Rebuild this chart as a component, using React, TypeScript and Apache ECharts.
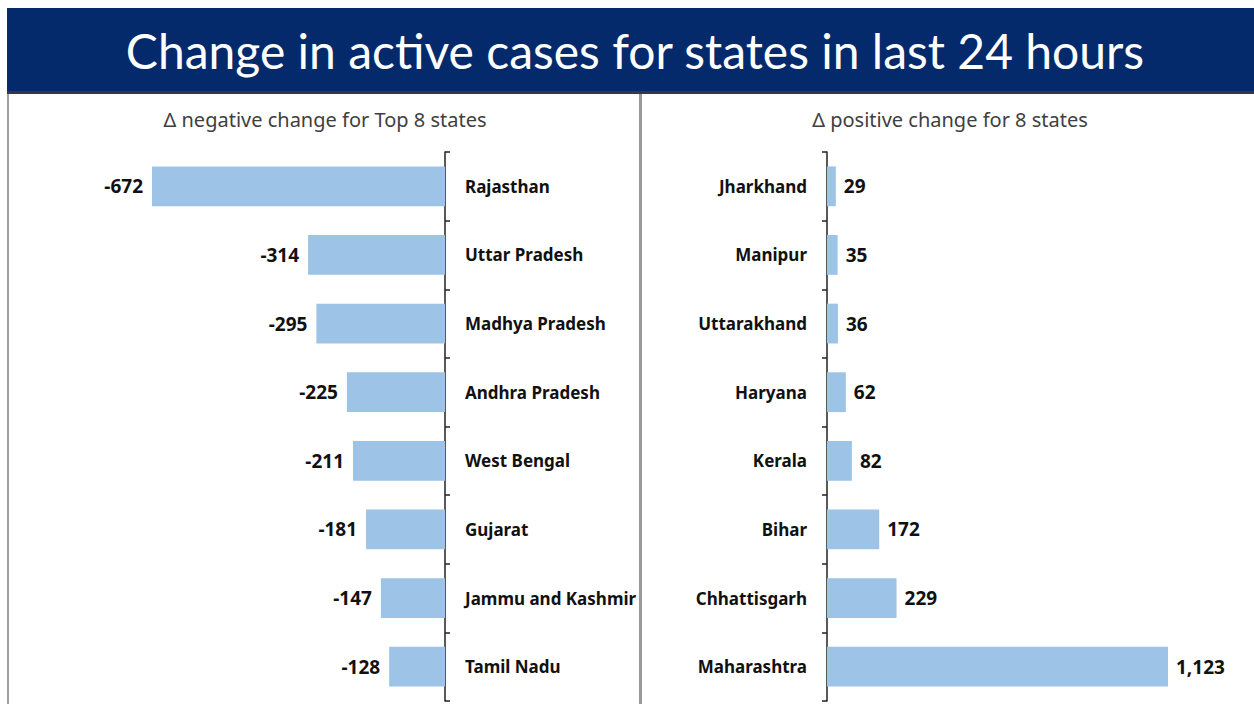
import React, { useEffect, useRef } from "react";
import * as echarts from "echarts";

const titleText = "Change in active cases for states in last 24 hours";
const leftSubtitle = "Δ negative change for Top 8 states";
const rightSubtitle = "Δ positive change for 8 states";

const negStates = ["Rajasthan", "Uttar Pradesh", "Madhya Pradesh", "Andhra Pradesh", "West Bengal", "Gujarat", "Jammu and Kashmir", "Tamil Nadu"];
const negValues = [-672, -314, -295, -225, -211, -181, -147, -128];

const posStates = ["Jharkhand", "Manipur", "Uttarakhand", "Haryana", "Kerala", "Bihar", "Chhattisgarh", "Maharashtra"];
const posValues = [29, 35, 36, 62, 82, 172, 229, 1123];

const BAR_COLOR = "#9dc3e6";
const FONT = "'Noto Sans', sans-serif";
const TITLE_FONT = "Lato, sans-serif";

export default function App() {
  const ref = useRef<HTMLDivElement>(null);
  useEffect(() => {
    if (!ref.current) return;
    const chart = echarts.init(ref.current, undefined, { renderer: "svg" });
    const fmt = (v: number) => v.toLocaleString("en-US");
    const labelStyle = { fontFamily: FONT, fontWeight: "bold" as const, fontSize: 17, color: "#111111" };
    chart.setOption({
      animation: false,
      backgroundColor: "#ffffff",
      grid: [
        { left: 152, width: 293, top: 152, height: 549 },
        { left: 827, width: 341, top: 152, height: 549 },
      ],
      xAxis: [
        { type: "value", gridIndex: 0, min: -672, max: 0, show: false },
        { type: "value", gridIndex: 1, min: 0, max: 1123, show: false },
      ],
      yAxis: [
        {
          type: "category", gridIndex: 0, data: negStates, inverse: true, position: "right",
          axisLine: { show: true, lineStyle: { color: "#222", width: 1.5 } },
          axisTick: { show: true, length: 5, lineStyle: { color: "#222", width: 1.5 } },
          axisLabel: { ...labelStyle, align: "left", margin: 20 },
        },
        {
          type: "category", gridIndex: 1, data: posStates, inverse: true, position: "left",
          axisLine: { show: true, lineStyle: { color: "#222", width: 1.5 } },
          axisTick: { show: true, length: 5, lineStyle: { color: "#222", width: 1.5 } },
          axisLabel: { ...labelStyle, align: "right", margin: 20 },
        },
      ],
      series: [
        {
          type: "bar", xAxisIndex: 0, yAxisIndex: 0, data: negValues, barWidth: "58%",
          itemStyle: { color: BAR_COLOR },
          label: { show: true, position: "left", distance: 9, ...labelStyle, fontSize: 19, formatter: (p: any) => fmt(p.value) },
        },
        {
          type: "bar", xAxisIndex: 1, yAxisIndex: 1, data: posValues, barWidth: "58%",
          itemStyle: { color: BAR_COLOR },
          label: { show: true, position: "right", distance: 8, ...labelStyle, fontSize: 19, formatter: (p: any) => fmt(p.value) },
        },
      ],
      graphic: [
        { type: "rect", shape: { x: 7, y: 8, width: 1247, height: 84 }, style: { fill: "#052a6c" } },
        { type: "rect", shape: { x: 7, y: 91, width: 1247, height: 3 }, style: { fill: "#3a3540" } },
        {
          type: "text", x: 635, y: 50,
          style: { text: titleText, fill: "#ffffff", font: `48px ${TITLE_FONT}`, align: "center", verticalAlign: "middle" },
        },
        { type: "rect", shape: { x: 7, y: 94, width: 2, height: 610 }, style: { fill: "#a0a0a0" } },
        { type: "rect", shape: { x: 639, y: 94, width: 3, height: 610 }, style: { fill: "#9a9a9a" } },
        {
          type: "text", x: 325, y: 119,
          style: { text: leftSubtitle, fill: "#404040", font: `20px ${FONT}`, align: "center", verticalAlign: "middle" },
        },
        {
          type: "text", x: 950, y: 119,
          style: { text: rightSubtitle, fill: "#404040", font: `20px ${FONT}`, align: "center", verticalAlign: "middle" },
        },
      ],
    });
    return () => chart.dispose();
  }, []);
  return <div ref={ref} style={{ position: "fixed", left: 0, top: 0, width: 1254, height: 704 }} />;
}
